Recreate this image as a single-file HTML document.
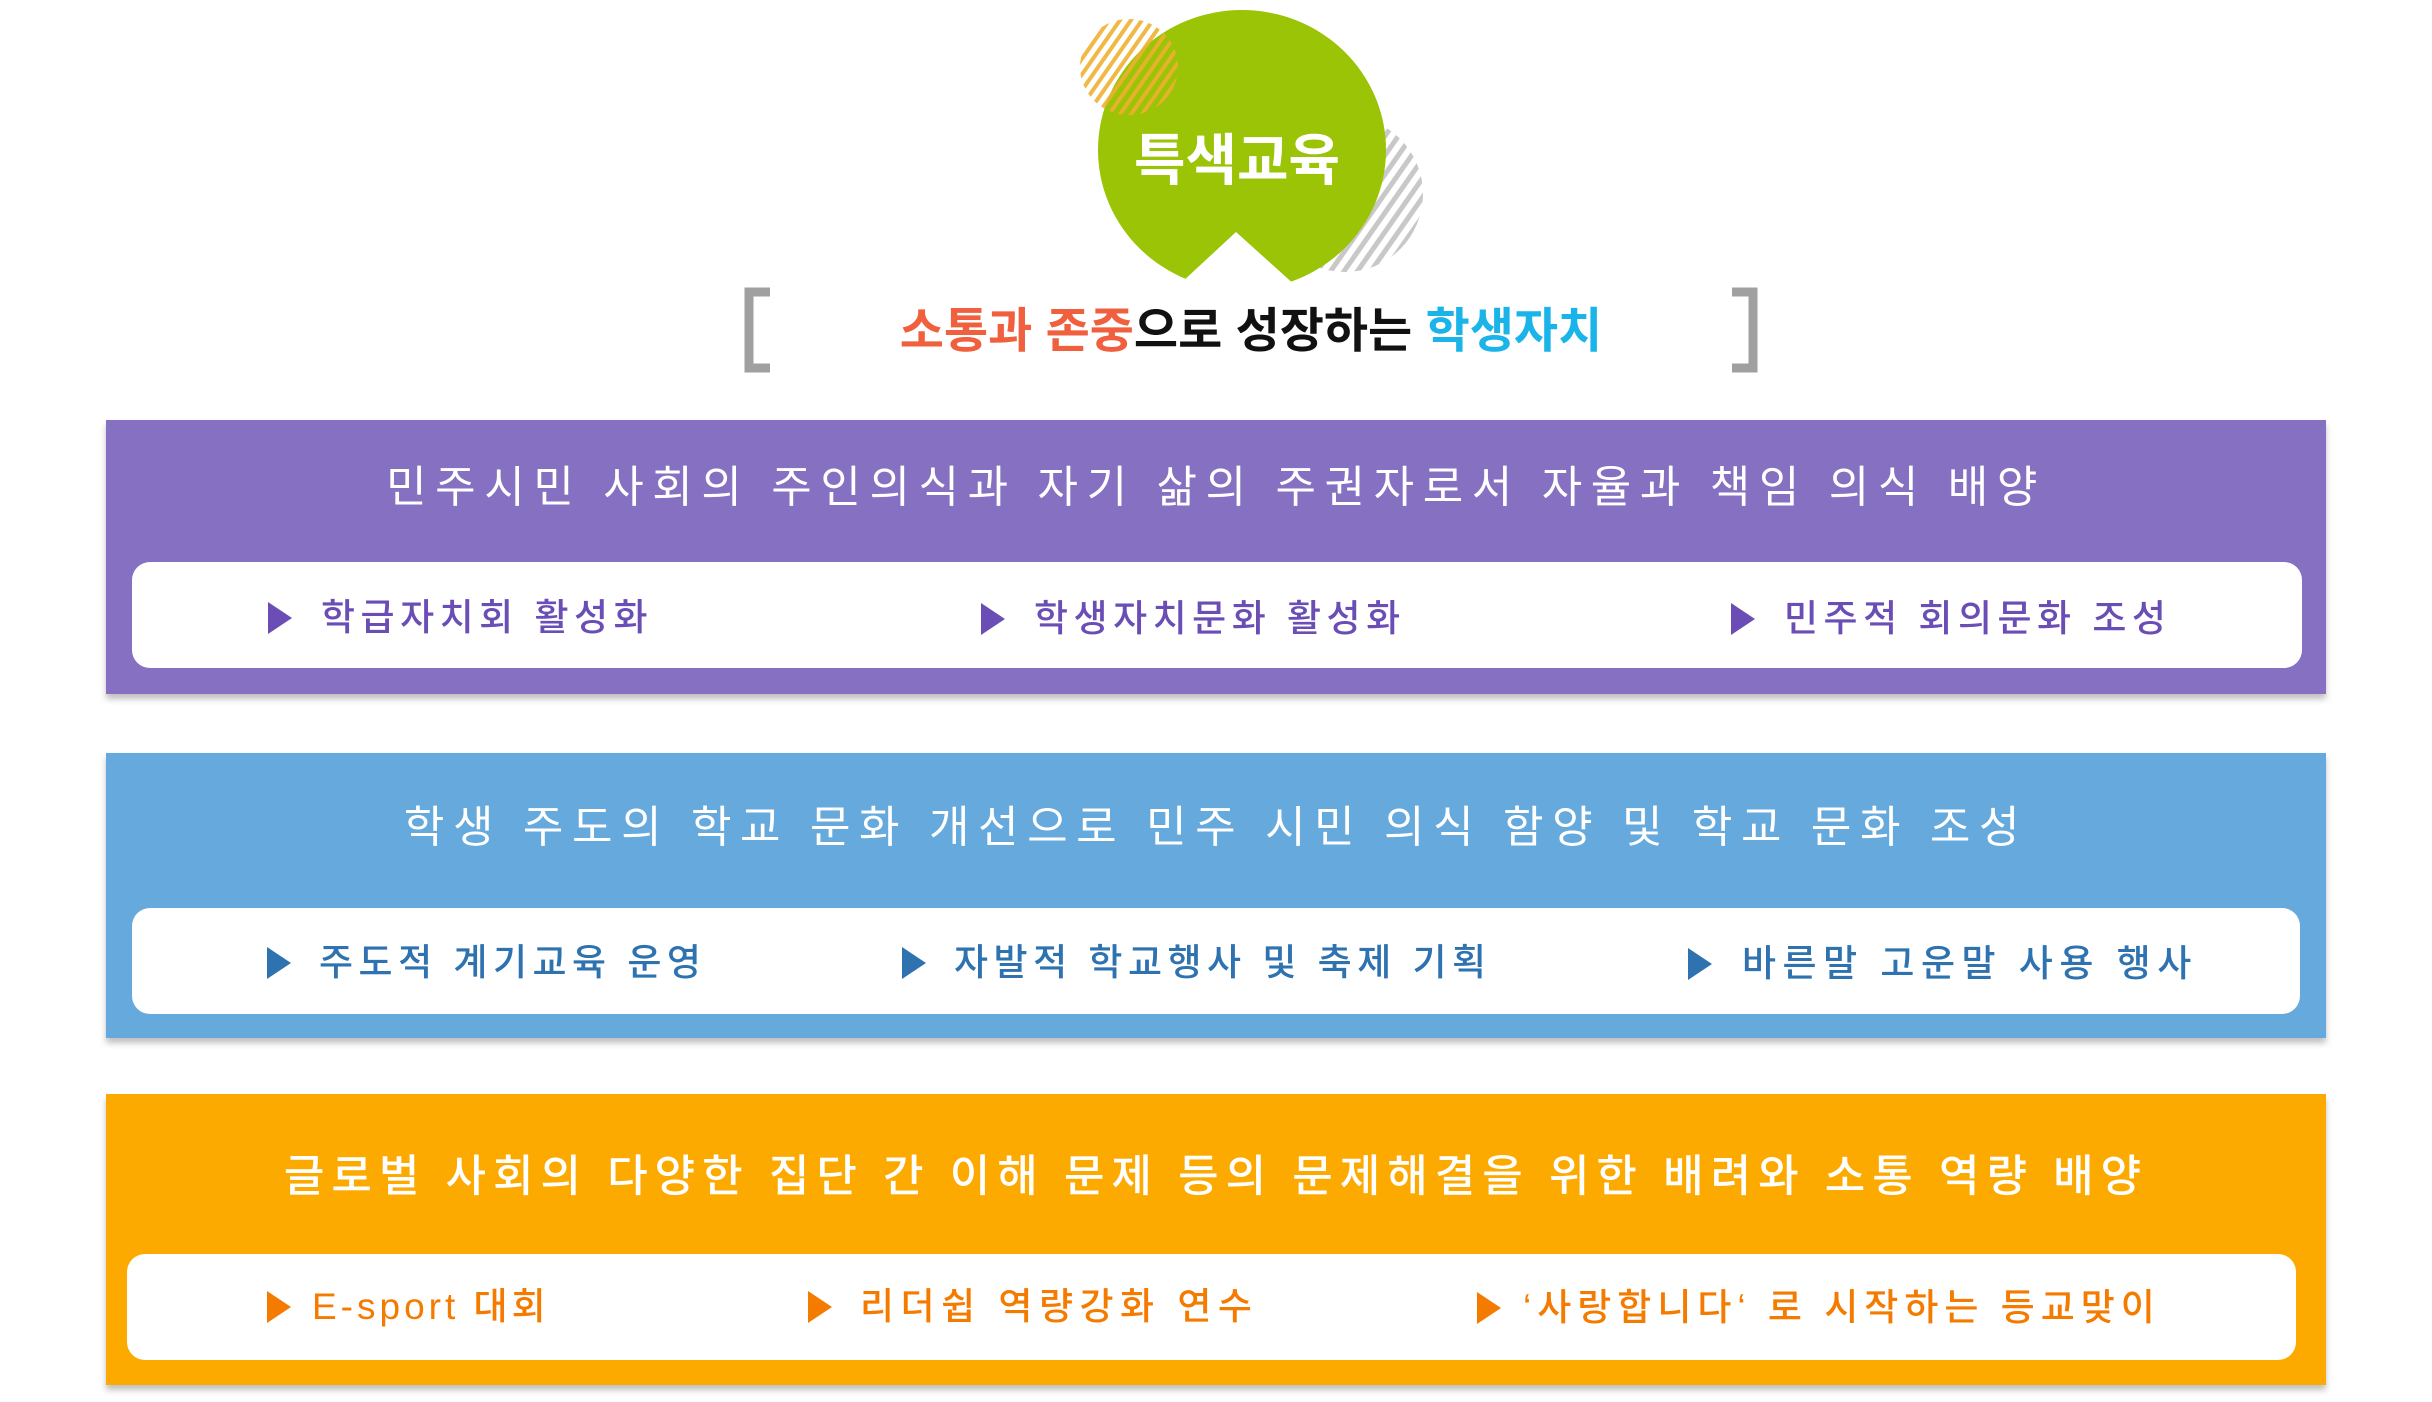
<!DOCTYPE html>
<html><head><meta charset="utf-8"><style>
html,body{margin:0;padding:0;background:#fff}
body{width:2432px;height:1402px;position:relative;overflow:hidden;font-family:"Liberation Sans","Noto Sans CJK KR",sans-serif}
.box{position:absolute;left:106px;width:2220px;box-shadow:0 5px 6px rgba(0,0,0,0.25)}
.wh{position:absolute;background:#fff;border-radius:18px}
.title{position:absolute;left:0;width:100%;text-align:center;color:#fff;font-size:44px;letter-spacing:8.6px;line-height:1;white-space:nowrap}
.it{position:absolute;font-size:37px;letter-spacing:5.5px;line-height:1;white-space:nowrap;font-weight:500}
.ar{position:absolute;width:0;height:0;border-top:16px solid transparent;border-bottom:16px solid transparent;border-left:24px solid}
</style></head><body>
<svg width="2432" height="400" style="position:absolute;left:0;top:0">
<defs>
<pattern id="po" patternUnits="userSpaceOnUse" width="9" height="9" patternTransform="rotate(35)">
<rect width="4" height="9" fill="#EEB030"/></pattern>
<pattern id="pg" patternUnits="userSpaceOnUse" width="11" height="11" patternTransform="rotate(35)">
<rect width="5" height="11" fill="#C8C8C8"/></pattern>
</defs>
<circle cx="1345" cy="194" r="78" fill="url(#pg)"/>
<ellipse cx="1242" cy="150" rx="144" ry="140" fill="#9AC405"/>
<polygon points="1168,295 1236,232 1306,295" fill="#fff"/>
<ellipse cx="1129" cy="67" rx="49" ry="48" fill="url(#po)" opacity="0.9"/>
<text x="1237" y="180" text-anchor="middle" fill="#fff" font-size="56" font-weight="bold" font-family="Liberation Sans, Noto Sans CJK KR, sans-serif">특색교육</text>
<path d="M770,292 H749 V368 H770" fill="none" stroke="#A0A0A0" stroke-width="9"/>
<path d="M1732,292 H1753 V368 H1732" fill="none" stroke="#A0A0A0" stroke-width="9"/>
<text x="1251" y="347" text-anchor="middle" font-size="48" font-weight="bold" font-family="Liberation Sans, Noto Sans CJK KR, sans-serif"><tspan fill="#F0603F">소통과 존중</tspan><tspan fill="#111">으로 성장하는 </tspan><tspan fill="#1AB4E8">학생자치</tspan></text>
</svg>

<div class="box" style="top:420px;height:274px;background:#8570C1">
<div class="title" style="top:46px">민주시민 사회의 주인의식과 자기 삶의 주권자로서 자율과 책임 의식 배양</div>
<div class="wh" style="left:26px;top:142px;width:2170px;height:106px"></div>
</div>
<div class="ar" style="left:268px;top:602px;color:#6A4DB5"></div>
<div class="it" style="left:321px;top:599px;color:#6A4DB5">학급자치회 활성화</div>
<div class="ar" style="left:981px;top:603px;color:#6A4DB5"></div>
<div class="it" style="left:1034px;top:600px;color:#6A4DB5">학생자치문화 활성화</div>
<div class="ar" style="left:1731px;top:603px;color:#6A4DB5"></div>
<div class="it" style="left:1784px;top:600px;color:#6A4DB5">민주적 회의문화 조성</div>

<div class="box" style="top:753px;height:285px;background:#66A9DC">
<div class="title" style="top:53px">학생 주도의 학교 문화 개선으로 민주 시민 의식 함양 및 학교 문화 조성</div>
<div class="wh" style="left:26px;top:155px;width:2168px;height:106px"></div>
</div>
<div class="ar" style="left:267px;top:947px;color:#2E72B0"></div>
<div class="it" style="left:319px;top:944px;color:#2E72B0">주도적 계기교육 운영</div>
<div class="ar" style="left:902px;top:947px;color:#2E72B0"></div>
<div class="it" style="left:954px;top:944px;color:#2E72B0">자발적 학교행사 및 축제 기획</div>
<div class="ar" style="left:1688px;top:948px;color:#2E72B0"></div>
<div class="it" style="left:1742px;top:945px;color:#2E72B0;letter-spacing:6.5px">바른말 고운말 사용 행사</div>

<div class="box" style="top:1094px;height:291px;background:#FDAA00">
<div class="title" style="top:61px;letter-spacing:7px;font-weight:500">글로벌 사회의 다양한 집단 간 이해 문제 등의 문제해결을 위한 배려와 소통 역량 배양</div>
<div class="wh" style="left:21px;top:160px;width:2169px;height:106px"></div>
</div>
<div class="ar" style="left:267px;top:1291px;color:#F47B00"></div>
<div class="it" style="left:312px;top:1288px;color:#F47B00;letter-spacing:4px"><span style="font-weight:400">E-sport</span> 대회</div>
<div class="ar" style="left:808px;top:1291px;color:#F47B00"></div>
<div class="it" style="left:860px;top:1288px;color:#F47B00;letter-spacing:6.5px">리더쉽 역량강화 연수</div>
<div class="ar" style="left:1477px;top:1292px;color:#F47B00"></div>
<div class="it" style="left:1523px;top:1289px;color:#F47B00;letter-spacing:6px">‘사랑합니다‘ 로 시작하는 등교맞이</div>
</body></html>
